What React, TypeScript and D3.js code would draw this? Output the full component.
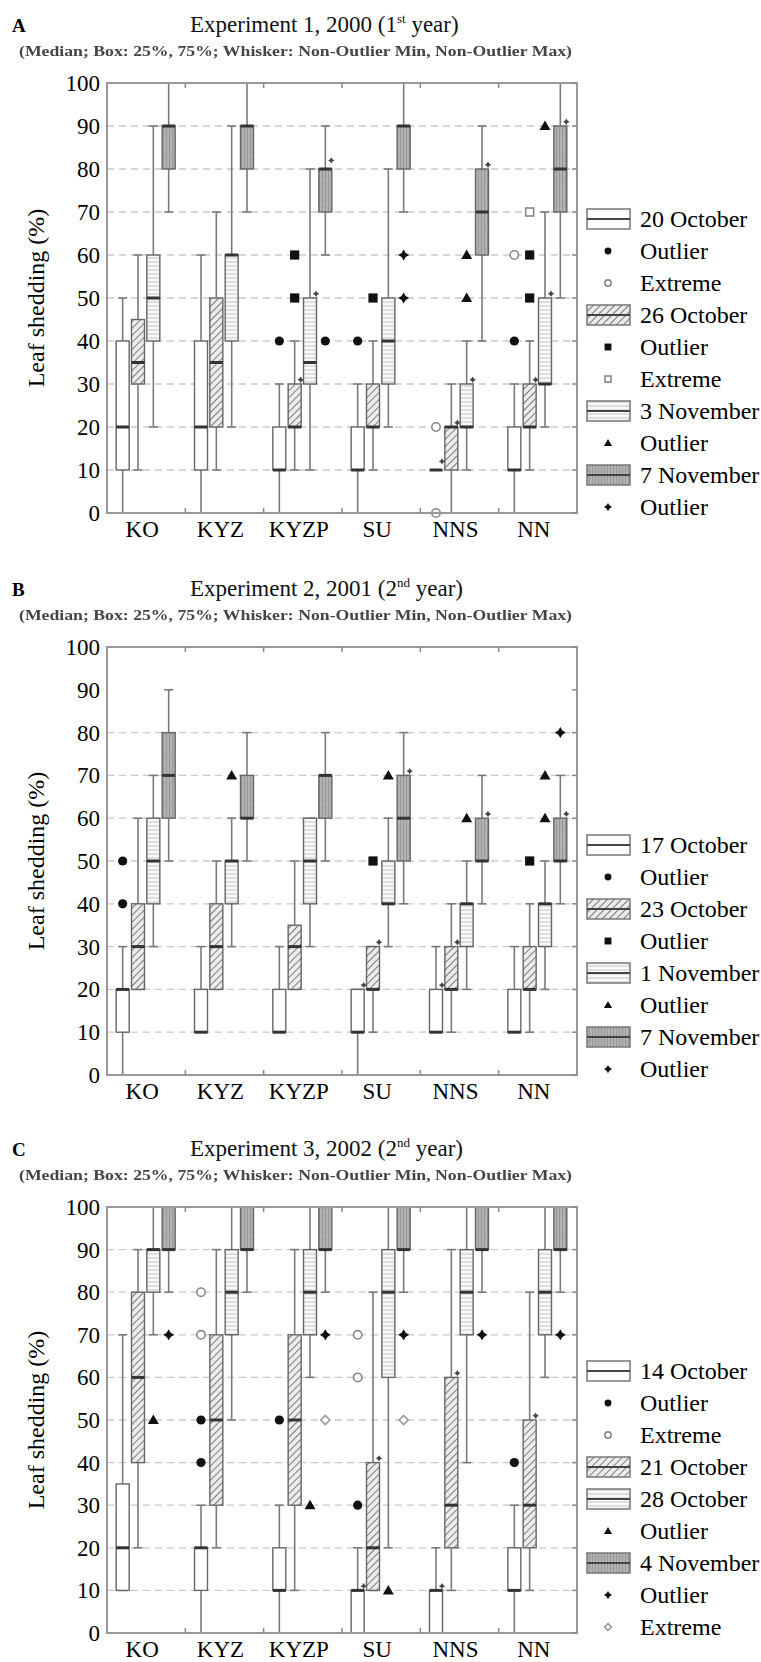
import React from "react";
import * as d3 from "d3";

const categories = ["KO", "KYZ", "KYZP", "SU", "NNS", "NN"];
const yTicks = [0, 10, 20, 30, 40, 50, 60, 70, 80, 90, 100];
const gridA = [10, 20, 30, 40, 50, 60, 70, 80, 90];
const gridB = [10, 20, 30, 40, 50, 60, 70, 80];
const gridC = [10, 20, 30, 40, 50, 60, 70, 80, 90];

// [min, q1, median, q3, max] for KO, KYZ, KYZP, SU, NNS, NN
const a20Oct = [[0, 10, 20, 40, 50], [0, 10, 20, 40, 60], [0, 10, 10, 20, 30], [0, 10, 10, 20, 30], [10, 10, 10, 10, 10], [0, 10, 10, 20, 30]];
const a26Oct = [[10, 30, 35, 45, 60], [10, 20, 35, 50, 70], [10, 20, 20, 30, 40], [10, 20, 20, 30, 40], [0, 10, 20, 20, 30], [10, 20, 20, 30, 40]];
const a3Nov = [[20, 40, 50, 60, 90], [20, 40, 60, 60, 90], [10, 30, 35, 50, 80], [20, 30, 40, 50, 80], [10, 20, 20, 30, 40], [20, 30, 30, 50, 70]];
const a7Nov = [[70, 80, 90, 90, 100], [70, 80, 90, 90, 100], [60, 70, 80, 80, 90], [70, 80, 90, 90, 100], [40, 60, 70, 80, 90], [50, 70, 80, 90, 100]];

const b17Oct = [[0, 10, 20, 20, 30], [10, 10, 10, 20, 30], [10, 10, 10, 20, 30], [0, 10, 10, 20, 20], [10, 10, 10, 20, 30], [10, 10, 10, 20, 30]];
const b23Oct = [[20, 20, 30, 40, 60], [20, 20, 30, 40, 50], [20, 20, 30, 35, 50], [10, 20, 20, 30, 30], [10, 20, 20, 30, 40], [10, 20, 20, 30, 40]];
const b1Nov = [[30, 40, 50, 60, 70], [30, 40, 50, 50, 60], [30, 40, 50, 60, 60], [30, 40, 40, 50, 60], [20, 30, 40, 40, 50], [20, 30, 40, 40, 50]];
const b7Nov = [[50, 60, 70, 80, 90], [50, 60, 60, 70, 80], [50, 60, 70, 70, 80], [40, 50, 60, 70, 80], [40, 50, 50, 60, 70], [40, 50, 50, 60, 70]];

const c14Oct = [[10, 10, 20, 35, 70], [0, 10, 20, 20, 30], [0, 10, 10, 20, 30], [0, 0, 10, 10, 20], [0, 0, 10, 10, 20], [0, 10, 10, 20, 30]];
const c21Oct = [[20, 40, 60, 80, 90], [20, 30, 50, 70, 90], [10, 30, 50, 70, 90], [10, 10, 20, 40, 80], [10, 20, 30, 60, 90], [10, 20, 30, 50, 80]];
const c28Oct = [[70, 80, 90, 90, 100], [50, 70, 80, 90, 100], [60, 70, 80, 90, 100], [20, 60, 80, 90, 100], [40, 70, 80, 90, 100], [60, 70, 80, 90, 100]];
const c4Nov = [[80, 90, 90, 100, 100], [80, 90, 90, 100, 100], [80, 90, 90, 100, 100], [80, 90, 90, 100, 100], [80, 90, 90, 100, 100], [80, 90, 90, 100, 100]];

// outliers / extremes: category, series index, value, marker
const outA = [
  { c: "KYZP", s: 0, v: 40, m: "circle" }, { c: "KYZP", s: 1, v: 50, m: "square" }, { c: "KYZP", s: 1, v: 60, m: "square" },
  { c: "KYZP", s: 3, v: 40, m: "circle" }, { c: "SU", s: 0, v: 40, m: "circle" }, { c: "SU", s: 1, v: 50, m: "square" },
  { c: "SU", s: 3, v: 50, m: "star" }, { c: "SU", s: 3, v: 60, m: "star" }, { c: "NNS", s: 0, v: 20, m: "openCircle" },
  { c: "NNS", s: 0, v: 0, m: "openCircle" }, { c: "NNS", s: 2, v: 50, m: "triangle" }, { c: "NNS", s: 2, v: 60, m: "triangle" },
  { c: "NN", s: 0, v: 40, m: "circle" }, { c: "NN", s: 0, v: 60, m: "openCircle" }, { c: "NN", s: 1, v: 50, m: "square" },
  { c: "NN", s: 1, v: 60, m: "square" }, { c: "NN", s: 1, v: 70, m: "openSquare" }, { c: "NN", s: 2, v: 90, m: "triangle" },
  { c: "KYZP", s: 1, v: 31, m: "tiny" }, { c: "KYZP", s: 2, v: 51, m: "tiny" }, { c: "KYZP", s: 3, v: 82, m: "tiny" },
  { c: "NNS", s: 0, v: 12, m: "tiny" }, { c: "NNS", s: 1, v: 21, m: "tiny" }, { c: "NNS", s: 2, v: 31, m: "tiny" },
  { c: "NNS", s: 3, v: 81, m: "tiny" }, { c: "NN", s: 1, v: 31, m: "tiny" }, { c: "NN", s: 2, v: 51, m: "tiny" },
  { c: "NN", s: 3, v: 91, m: "tiny" },
];
const outB = [
  { c: "KO", s: 0, v: 40, m: "circle" }, { c: "KO", s: 0, v: 50, m: "circle" }, { c: "KYZ", s: 2, v: 70, m: "triangle" },
  { c: "SU", s: 1, v: 50, m: "square" }, { c: "SU", s: 2, v: 70, m: "triangle" }, { c: "NNS", s: 2, v: 60, m: "triangle" },
  { c: "NN", s: 1, v: 50, m: "square" }, { c: "NN", s: 2, v: 60, m: "triangle" }, { c: "NN", s: 2, v: 70, m: "triangle" },
  { c: "NN", s: 3, v: 80, m: "star" },
  { c: "SU", s: 0, v: 21, m: "tiny" }, { c: "SU", s: 1, v: 31, m: "tiny" }, { c: "SU", s: 3, v: 71, m: "tiny" },
  { c: "NNS", s: 0, v: 21, m: "tiny" }, { c: "NNS", s: 1, v: 31, m: "tiny" }, { c: "NNS", s: 3, v: 61, m: "tiny" },
  { c: "NN", s: 3, v: 61, m: "tiny" },
];
const outC = [
  { c: "KO", s: 2, v: 50, m: "triangle" }, { c: "KO", s: 3, v: 70, m: "star" },
  { c: "KYZ", s: 0, v: 40, m: "circle" }, { c: "KYZ", s: 0, v: 50, m: "circle" }, { c: "KYZ", s: 0, v: 70, m: "openCircle" },
  { c: "KYZ", s: 0, v: 80, m: "openCircle" }, { c: "KYZP", s: 0, v: 50, m: "circle" }, { c: "KYZP", s: 2, v: 30, m: "triangle" },
  { c: "KYZP", s: 3, v: 70, m: "star" }, { c: "KYZP", s: 3, v: 50, m: "openDiamond" }, { c: "SU", s: 0, v: 30, m: "circle" },
  { c: "SU", s: 0, v: 60, m: "openCircle" }, { c: "SU", s: 0, v: 70, m: "openCircle" }, { c: "SU", s: 2, v: 10, m: "triangle" },
  { c: "SU", s: 3, v: 70, m: "star" }, { c: "SU", s: 3, v: 50, m: "openDiamond" }, { c: "NNS", s: 3, v: 70, m: "star" },
  { c: "NN", s: 0, v: 40, m: "circle" }, { c: "NN", s: 3, v: 70, m: "star" },
  { c: "SU", s: 0, v: 11, m: "tiny" }, { c: "SU", s: 1, v: 41, m: "tiny" }, { c: "NNS", s: 0, v: 11, m: "tiny" },
  { c: "NNS", s: 1, v: 61, m: "tiny" }, { c: "NN", s: 1, v: 51, m: "tiny" },
];

const legendA = [
  { k: "box", s: 0, t: "20 October" }, { k: "circle", t: "Outlier" }, { k: "openCircle", t: "Extreme" },
  { k: "box", s: 1, t: "26 October" }, { k: "square", t: "Outlier" }, { k: "openSquare", t: "Extreme" },
  { k: "box", s: 2, t: "3 November" }, { k: "triangle", t: "Outlier" }, { k: "box", s: 3, t: "7 November" },
  { k: "star", t: "Outlier" },
];
const legendB = [
  { k: "box", s: 0, t: "17 October" }, { k: "circle", t: "Outlier" }, { k: "box", s: 1, t: "23 October" },
  { k: "square", t: "Outlier" }, { k: "box", s: 2, t: "1 November" }, { k: "triangle", t: "Outlier" },
  { k: "box", s: 3, t: "7 November" }, { k: "star", t: "Outlier" },
];
const legendC = [
  { k: "box", s: 0, t: "14 October" }, { k: "circle", t: "Outlier" }, { k: "openCircle", t: "Extreme" },
  { k: "box", s: 1, t: "21 October" }, { k: "box", s: 2, t: "28 October" }, { k: "triangle", t: "Outlier" },
  { k: "box", s: 3, t: "4 November" }, { k: "star", t: "Outlier" }, { k: "openDiamond", t: "Extreme" },
];

const panels = [
  { id: "A", exp: "Experiment 1, 2000 (1", sup: "st", top: 83, bottom: 513, series: [a20Oct, a26Oct, a3Nov, a7Nov], out: outA, legend: legendA, grid: gridA },
  { id: "B", exp: "Experiment 2, 2001 (2", sup: "nd", top: 647, bottom: 1075, series: [b17Oct, b23Oct, b1Nov, b7Nov], out: outB, legend: legendB, grid: gridB },
  { id: "C", exp: "Experiment 3, 2002 (2", sup: "nd", top: 1207, bottom: 1633, series: [c14Oct, c21Oct, c28Oct, c4Nov], out: outC, legend: legendC, grid: gridC },
];

const FONT = "'Liberation Serif', 'Times New Roman', serif";
const fills = ["#ffffff", "url(#hatch)", "url(#hlines)", "url(#vgrid)"];
const left = 107;
const right = 577;

const x = d3.scaleBand().domain(categories).range([left, right]);
const slot = d3.scalePoint<number>().domain([0, 1, 2, 3]).range([-23.5, 22.5]);
const BW = 13;

function marker(m: string, cx: number, cy: number, k = 1, key?: any) {
  const dark = "#111";
  if (m === "circle") return <circle key={key} cx={cx} cy={cy} r={4.6 * k} fill={dark} />;
  if (m === "openCircle") return <circle key={key} cx={cx} cy={cy} r={4.2 * k} fill="#fff" stroke="#888" strokeWidth={1.6} />;
  if (m === "square") return <rect key={key} x={cx - 4.6 * k} y={cy - 4.6 * k} width={9.2 * k} height={9.2 * k} fill={dark} />;
  if (m === "openSquare") return <rect key={key} x={cx - 4 * k} y={cy - 4 * k} width={8 * k} height={8 * k} fill="#fff" stroke="#888" strokeWidth={1.6} />;
  if (m === "triangle") {
    const p = [[cx, cy - 5.5 * k], [cx + 5.5 * k, cy + 4 * k], [cx - 5.5 * k, cy + 4 * k]];
    return <polygon key={key} points={p.map((d) => d.join(",")).join(" ")} fill={dark} />;
  }
  if (m === "openDiamond") {
    const r = 4.5 * k;
    const p = [[cx, cy - r], [cx + r, cy], [cx, cy + r], [cx - r, cy]];
    return <polygon key={key} points={p.map((d) => d.join(",")).join(" ")} fill="#fff" stroke="#999" strokeWidth={1.6} />;
  }
  // star / tiny: four-pointed star
  const r = (m === "tiny" ? 3.2 : 5.5) * k;
  const i = r * 0.38;
  const p = [[cx, cy - r], [cx + i, cy - i], [cx + r, cy], [cx + i, cy + i], [cx, cy + r], [cx - i, cy + i], [cx - r, cy], [cx - i, cy - i]];
  return <polygon key={key} points={p.map((d) => d.join(",")).join(" ")} fill={m === "tiny" ? "#444" : dark} />;
}

function Panel({ p }: { p: (typeof panels)[number] }) {
  const y = d3.scaleLinear().domain([0, 100]).range([p.bottom, p.top]);
  const n = p.legend.length;
  const rowY = (i: number) => p.bottom - 6 - (n - 1 - i) * 32;
  const bounds = categories.slice(1).map((c) => x(c)!);
  return (
    <g>
      <text x={12} y={p.top - 51} fontFamily={FONT} fontWeight="bold" fontSize={19}>{p.id}</text>
      <text x={190} y={p.top - 51} fontFamily={FONT} fontSize={23} fill="#111">
        {p.exp}
        <tspan fontSize={13} dy={-9}>{p.sup}</tspan>
        <tspan dy={9}> year)</tspan>
      </text>
      <text x={19} y={p.top - 27} fontFamily={FONT} fontSize={15} fontWeight="bold" fill="#444" textLength={553} lengthAdjust="spacingAndGlyphs" filter="url(#blur)">
        (Median; Box: 25%, 75%; Whisker: Non-Outlier Min, Non-Outlier Max)
      </text>

      {p.grid.map((v) => (
        <line key={"g" + v} x1={left} x2={right} y1={y(v)} y2={y(v)} stroke="#c9c9c9" strokeWidth={1.3} strokeDasharray="7,5" />
      ))}

      {p.series.map((ser, si) =>
        ser.map(([mn, q1, md, q3, mx], ci) => {
          const cx = x(categories[ci])! + x.bandwidth() / 2 + slot(si)!;
          return (
            <g key={`b${si}-${ci}`}>
              <line x1={cx} x2={cx} y1={y(mn)} y2={y(q1)} stroke="#7a7a7a" strokeWidth={1.6} />
              <line x1={cx} x2={cx} y1={y(q3)} y2={y(mx)} stroke="#7a7a7a" strokeWidth={1.6} />
              <line x1={cx - 4.5} x2={cx + 4.5} y1={y(mn)} y2={y(mn)} stroke="#7a7a7a" strokeWidth={1.6} />
              <line x1={cx - 4.5} x2={cx + 4.5} y1={y(mx)} y2={y(mx)} stroke="#7a7a7a" strokeWidth={1.6} />
              <rect x={cx - BW / 2} y={y(q3)} width={BW} height={y(q1) - y(q3)} fill={fills[si]} stroke="#666" strokeWidth={1.4} />
              <line x1={cx - BW / 2} x2={cx + BW / 2} y1={y(md)} y2={y(md)} stroke="#333" strokeWidth={3} />
            </g>
          );
        })
      )}

      {p.out.map((o, i) => {
        const cx = x(o.c)! + x.bandwidth() / 2 + slot(o.s)! + (o.m === "tiny" ? 6 : 0);
        return marker(o.m, cx, y(o.v), 1, "o" + i);
      })}

      <rect x={left} y={p.top} width={right - left} height={p.bottom - p.top} fill="none" stroke="#999" strokeWidth={2} />
      {bounds.map((b) => (
        <g key={"t" + b}>
          <line x1={b} x2={b} y1={p.top} y2={p.top + 5} stroke="#888" strokeWidth={1.5} />
          <line x1={b} x2={b} y1={p.bottom} y2={p.bottom - 5} stroke="#888" strokeWidth={1.5} />
        </g>
      ))}
      {yTicks.map((v) => (
        <g key={"y" + v}>
          <line x1={right} x2={right - 5} y1={y(v)} y2={y(v)} stroke="#888" strokeWidth={1.5} />
          <text x={100} y={y(v) + 8} textAnchor="end" fontFamily={FONT} fontSize={23}>{v}</text>
        </g>
      ))}
      {categories.map((c) => (
        <text key={c} x={x(c)! + x.bandwidth() / 2 - 4} y={p.bottom + 24} textAnchor="middle" fontFamily={FONT} fontSize={23}>{c}</text>
      ))}
      <text transform={`translate(44,${(p.top + p.bottom) / 2}) rotate(-90)`} textAnchor="middle" fontFamily={FONT} fontSize={24}>
        Leaf shedding (%)
      </text>

      {p.legend.map((l, i) => {
        const ly = rowY(i);
        return (
          <g key={"l" + i}>
            {l.k === "box" ? (
              <g>
                <rect x={587} y={ly - 10} width={43} height={20} fill={fills[l.s!]} stroke="#777" strokeWidth={1.5} />
                <line x1={587} x2={630} y1={ly} y2={ly} stroke="#444" strokeWidth={2.2} />
              </g>
            ) : (
              marker(l.k, 608, ly, 0.75)
            )}
            <text x={640} y={ly + 8} fontFamily={FONT} fontSize={24}>{l.t}</text>
          </g>
        );
      })}
    </g>
  );
}

export default function App() {
  return (
    <svg width={761} height={1662} style={{ position: "absolute", left: 0, top: 0, background: "#fff" }}>
      <defs>
        <filter id="blur"><feGaussianBlur stdDeviation="0.7" /></filter>
        <pattern id="hatch" width={5} height={5} patternUnits="userSpaceOnUse" patternTransform="rotate(45)">
          <rect width={5} height={5} fill="#ececec" />
          <line x1={0} y1={0} x2={0} y2={5} stroke="#6e6e6e" strokeWidth={1.8} />
        </pattern>
        <pattern id="hlines" width={4} height={4} patternUnits="userSpaceOnUse">
          <rect width={4} height={4} fill="#f8f8f8" />
          <line x1={0} y1={2} x2={4} y2={2} stroke="#c4c4c4" strokeWidth={1} />
        </pattern>
        <pattern id="vgrid" width={3} height={6} patternUnits="userSpaceOnUse">
          <rect width={3} height={6} fill="#b4b4b4" />
          <line x1={1.5} y1={0} x2={1.5} y2={6} stroke="#959595" strokeWidth={1} />
          <line x1={0} y1={3} x2={3} y2={3} stroke="#a4a4a4" strokeWidth={0.8} />
        </pattern>
      </defs>
      <rect width={761} height={1662} fill="#fff" />
      {panels.map((p) => (
        <Panel key={p.id} p={p} />
      ))}
    </svg>
  );
}
